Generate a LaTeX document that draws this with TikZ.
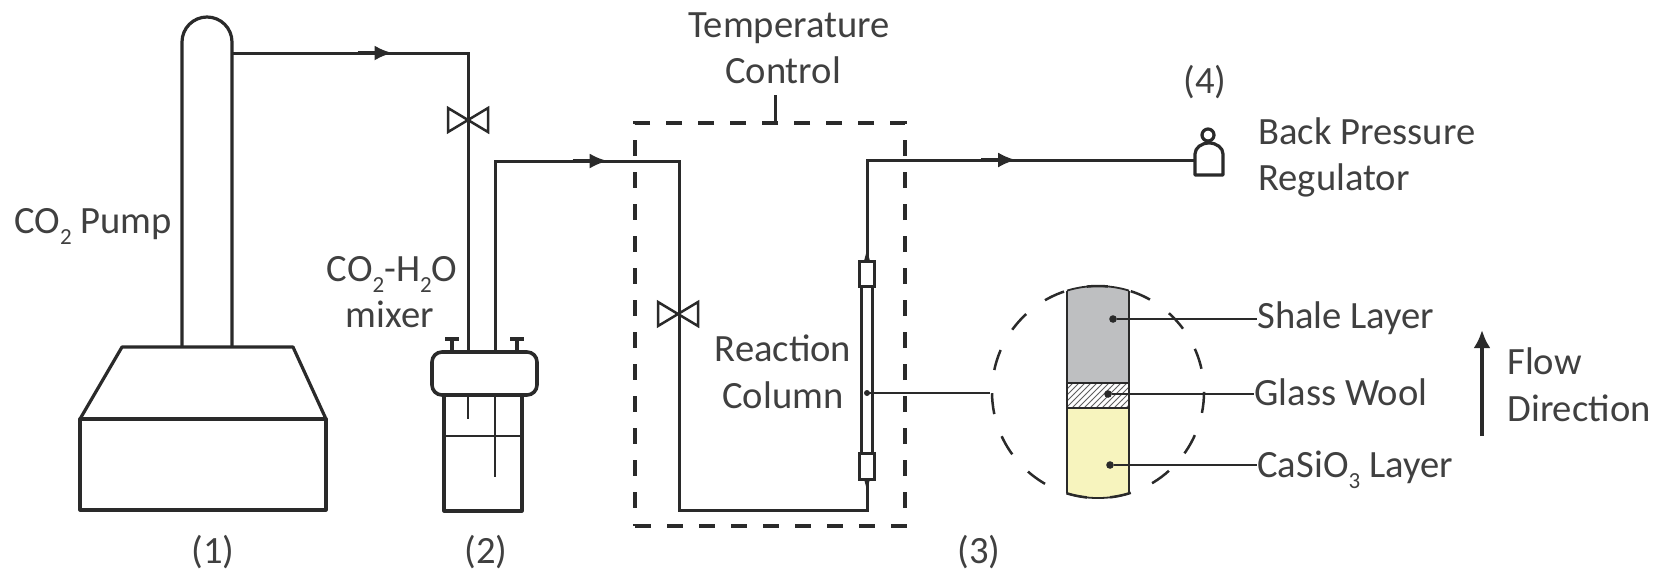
\documentclass[tikz,border=0pt]{standalone}
\usepackage{fontspec}
\setmainfont{Carlito}
\usetikzlibrary{arrows.meta,patterns,decorations.markings,calc}
\definecolor{ink}{HTML}{2A2A2A}
\definecolor{txt}{HTML}{404040}
\definecolor{shale}{HTML}{BEBFC1}
\definecolor{casio}{HTML}{F7F4BE}
\tikzset{
  x=0.5pt,y=-0.5pt,
  pipe/.style={draw=ink,line width=1.5pt},
  thin pipe/.style={draw=ink,line width=1.05pt},
  flow/.style={pipe,postaction={decorate},decoration={markings,mark=at position #1 with {\draw[draw=ink,line width=2.1pt] (-35,0) -- (-15,0); \arrow{Latex[length=9pt,width=7.5pt]}}}},
  vessel/.style={draw=ink,line width=1.6pt,line join=round},
  dashbox/.style={draw=ink,line width=1.6pt,dash pattern=on 8pt off 8pt},
  lens/.style={draw=ink,line width=1.25pt,dash pattern=on 10.5pt off 11.7pt},
  leader/.style={draw=ink,line width=1.05pt},
  lbl/.style={font=\fontsize{19.3}{22}\selectfont,text=txt,inner sep=0pt,text height=13pt,text depth=4pt,yshift=-1.6pt},
  lblL/.style={lbl,anchor=west},
  valvebody/.style={draw=ink,line width=1.25pt,line join=miter},
  dotend/.style={circle,fill=ink,inner sep=0pt,minimum size=3.8pt},
}
\newcommand{\lowsub}[1]{\raisebox{-0.3em}{\fontsize{11.5}{12}\selectfont #1}}
\newcommand{\valveat}[1]{\draw[valvebody] ($(#1)+(-20,-12)$) -- ($(#1)+(20,12)$) -- ($(#1)+(20,-12)$) -- ($(#1)+(-20,12)$) -- cycle;}
\begin{document}
\begin{tikzpicture}
\useasboundingbox (0,0) rectangle (1669,574);
% pump
\coordinate (colL) at (182,347);
\coordinate (colR) at (232,347);
\draw[vessel] (122,347) -- (293,347) -- (326,419) -- (80,419) -- cycle;
\draw[vessel] (80,419) rectangle (326,510);
\draw[vessel] (colL) -- (182,42) arc[start angle=180,end angle=360,x radius=25,y radius=25] -- (colR);
% mixer
\draw[vessel] (444,395) -- (444,511) -- (522,511) -- (522,395);
\node[draw=ink,line width=1.8pt,rounded corners=5pt,minimum width=52.5pt,minimum height=21.5pt,inner sep=0pt,anchor=center] (lid) at (484.5,373.5) {};
\draw[thin pipe] (444,436) -- (522,436);
\draw[vessel] (452,352) -- (452,339) (445,339) -- (459,339);
\draw[vessel] (517,352) -- (517,339) (510,339) -- (524,339);
\draw[thin pipe] (468,395) -- (468,419);
\draw[thin pipe] (495,395) -- (495,477);
% pipes
\coordinate (pumpOut) at (232,53);
\coordinate (inA) at (468,352);
\coordinate (inB) at (495,352);
\draw[flow=0.30] (pumpOut) -- (468,53) -- (inA);
\draw[flow=0.322] (inB) -- (495,161) -- (679,161) -- (679,510) -- (867,510) -- (867,479);
% regulator
\coordinate (colTop) at (867,261);
\coordinate (regIn) at (1195,160);
\draw[flow=0.583] (colTop) -- (867,160) -- (regIn);
\draw[vessel] (1195,175) -- (1195,154) arc[start angle=180,end angle=360,x radius=14,y radius=11] -- (1223,175) -- cycle;
\draw[vessel] (1208,135) circle[radius=6];
% valves
\coordinate (v1) at (468,120);
\coordinate (v2) at (678,314);
\valveat{v1}
\valveat{v2}
% temperature box
\node[dashbox,minimum width=135pt,minimum height=201.5pt,inner sep=0pt] (tbox) at (770,324.5) {};
\node[lbl] (tc1) at (789,25) {Temperature};
\node[lbl] (tc2) at (783,71) {Control};
\draw[pipe] (775,95) -- (775,123);
% column
\draw[pipe] (859,261) rectangle (874,286);
\draw[pipe] (859,453) rectangle (874,479);
\draw[pipe] (861,286) -- (861,453) (872,286) -- (872,453);
\fill[ink] (864,261) -- (867,250) -- (870,261) -- cycle;
\fill[ink] (864,479) -- (867,490) -- (870,479) -- cycle;
\coordinate (colJ) at (867,393);
\coordinate (lensL) at (990,393);
\fill[ink] (colJ) circle[radius=3];
\draw[leader] (colJ) -- (lensL);
% lens
\fill[shale] (1067,383) -- (1067,290.6) arc[start angle=253,end angle=287,radius=106] -- (1129,383) -- cycle;
\fill[casio] (1067,408) -- (1067,493.4) arc[start angle=107,end angle=73,radius=106] -- (1129,408) -- cycle;
\fill[white] (1067,383) rectangle (1129,408);
\fill[pattern=north east lines,pattern color=ink!75] (1067,383) rectangle (1129,408);
\draw[draw=ink,line width=1.05pt] (1067,290.6) -- (1067,493.4) (1129,290.6) -- (1129,493.4);
\draw[draw=ink,line width=1.05pt] (1067,383) -- (1129,383) (1067,408) -- (1129,408);
\draw[draw=ink,line width=0.9pt] (1067,290.6) arc[start angle=253,end angle=287,radius=106];
\draw[draw=ink,line width=0.9pt] (1067,493.4) arc[start angle=107,end angle=73,radius=106];
\draw[lens] (1098,392) circle[radius=106];
\node[dotend] (d1) at (1113,319) {};
\node[dotend] (d2) at (1108,394) {};
\node[dotend] (d3) at (1110,465) {};
\node[lblL] (shale) at (1257,316) {Shale Layer};
\node[lblL] (glass) at (1254,393) {Glass Wool};
\node[lblL] (caso) at (1257,465) {CaSiO\lowsub{3} Layer};
\draw[leader] (d1) -- (d1 -| shale.west);
\draw[leader] (d2) -- (d2 -| glass.west);
\draw[leader] (d3) -- (d3 -| caso.west);
% flow arrow
\coordinate (fa) at (1482,436);
\coordinate (fb) at (1482,330);
\draw[draw=ink,line width=2.4pt,-{Latex[length=9pt,width=8.5pt]}] (fa) -- (fb);
% labels
\node[lblL] (pump) at (14,221) {CO\lowsub{2} Pump};
\node[lbl] (m1) at (392,269) {CO\lowsub{2}-H\lowsub{2}O};
\node[lbl] (m2) at (390,315) {mixer};
\node[lbl] (l1) at (213,551) {(1)};
\node[lbl] (l2) at (486,551) {(2)};
\node[lbl] (l3) at (979,551) {(3)};
\node[lbl] (l4) at (1205,81) {(4)};
\node[lblL] (bp) at (1258,132) {Back Pressure};
\node[lblL] (reg) at (1258,178) {Regulator};
\node[lbl] (rc1) at (783,349) {Reaction};
\node[lbl] (rc2) at (783,396) {Column};
\node[lblL] (f1) at (1507,362) {Flow};
\node[lblL] (f2) at (1507,409) {Direction};
\end{tikzpicture}
\end{document}
